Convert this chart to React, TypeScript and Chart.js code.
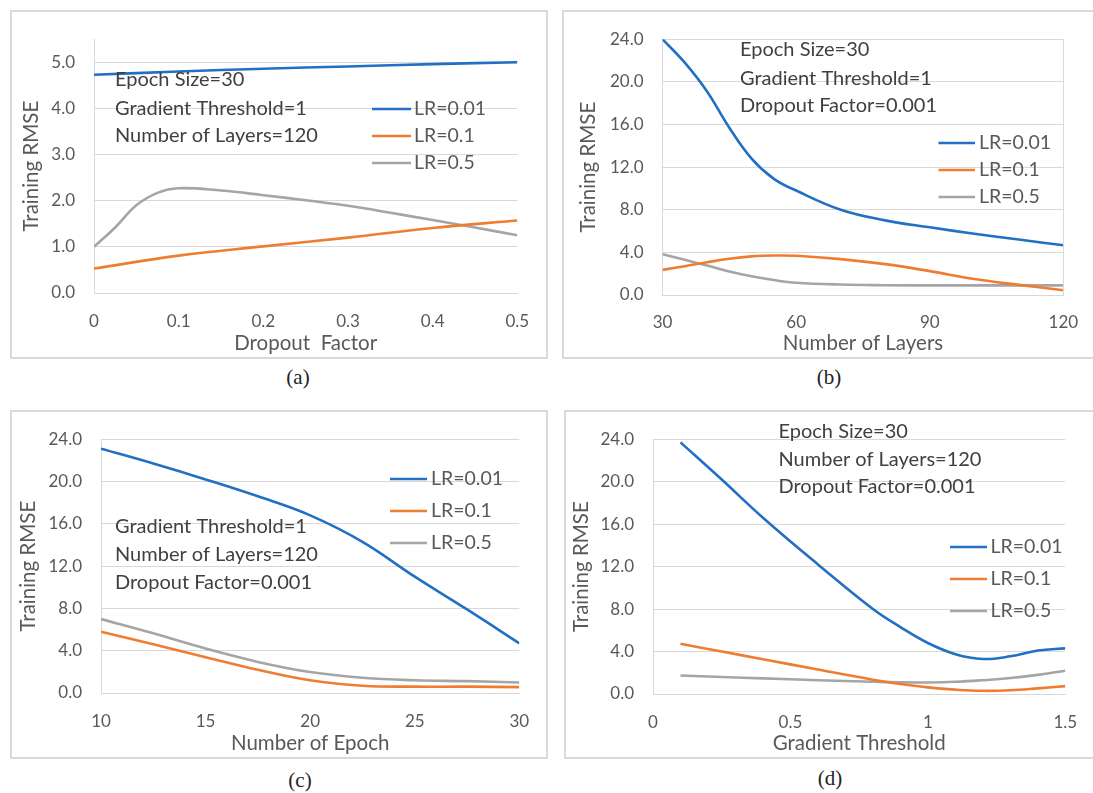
import React, { useEffect, useRef } from "react";
import { Chart, registerables } from "chart.js";

Chart.register(...registerables);

const FONT = "Lato, 'Open Sans', sans-serif";
const TICK_SIZE = 17;
const TITLE_SIZE = 20.5;
const NOTE_SIZE = 20;
const LEGEND_SIZE = 19.5;

const seriesLabels = ["LR=0.01", "LR=0.1", "LR=0.5"];
const seriesColors = ["#2170C4", "#EE7D31", "#A5A5A5"];

// ---------- (a) Dropout Factor ----------
const aDropoutX = [0, 0.1, 0.2, 0.3, 0.4, 0.5];
const aLR001 = [4.73, 4.8, 4.86, 4.91, 4.96, 5.0];
const aLR01 = [0.53, 0.81, 1.01, 1.2, 1.41, 1.57];
const aDropoutXGray = [0, 0.025, 0.05, 0.075, 0.1, 0.15, 0.2, 0.25, 0.3, 0.35, 0.4, 0.45, 0.5];
const aLR05 = [1.0, 1.42, 1.9, 2.17, 2.27, 2.22, 2.12, 2.01, 1.89, 1.74, 1.58, 1.42, 1.25];
const aXTicks = [0, 0.1, 0.2, 0.3, 0.4, 0.5];
const aXTickLabels = ["0", "0.1", "0.2", "0.3", "0.4", "0.5"];
const aYTicks = [0, 1, 2, 3, 4, 5];
const aYTickLabels = ["0.0", "1.0", "2.0", "3.0", "4.0", "5.0"];
const aNotes = ["Epoch Size=30", "Gradient Threshold=1", "Number of Layers=120"];

// ---------- (b) Number of Layers ----------
const bLayersX = [30, 35, 40, 45, 50, 55, 60, 70, 80, 90, 100, 110, 120];
const bLR001 = [24.0, 21.8, 19.1, 15.7, 12.8, 10.9, 9.8, 8.0, 7.0, 6.35, 5.75, 5.2, 4.66];
const bLR01 = [2.36, 2.7, 3.07, 3.4, 3.62, 3.7, 3.68, 3.37, 2.9, 2.24, 1.5, 0.95, 0.45];
const bLR05 = [3.83, 3.3, 2.76, 2.2, 1.75, 1.4, 1.15, 0.98, 0.92, 0.9, 0.9, 0.9, 0.9];
const bXTicks = [30, 60, 90, 120];
const bXTickLabels = ["30", "60", "90", "120"];
const rmseYTicks = [0, 4, 8, 12, 16, 20, 24];
const rmseYTickLabels = ["0.0", "4.0", "8.0", "12.0", "16.0", "20.0", "24.0"];
const bNotes = ["Epoch Size=30", "Gradient Threshold=1", "Dropout Factor=0.001"];

// ---------- (c) Number of Epoch ----------
const cEpochX = [10, 12.5, 15, 17.5, 20, 22.5, 25, 27.5, 30];
const cLR001 = [23.1, 21.7, 20.2, 18.6, 16.8, 14.3, 11.0, 7.9, 4.7];
const cLR01 = [5.79, 4.6, 3.39, 2.19, 1.2, 0.69, 0.6, 0.6, 0.56];
const cLR05 = [6.99, 5.64, 4.2, 2.94, 1.98, 1.44, 1.2, 1.12, 1.0];
const cXTicks = [10, 15, 20, 25, 30];
const cXTickLabels = ["10", "15", "20", "25", "30"];
const cNotes = ["Gradient Threshold=1", "Number of Layers=120", "Dropout Factor=0.001"];

// ---------- (d) Gradient Threshold ----------
const dGradX = [0.1, 0.25, 0.4, 0.6, 0.8, 0.9, 1.0, 1.1, 1.2, 1.3, 1.4, 1.5];
const dLR001 = [23.7, 20.2, 16.6, 12.2, 8.0, 6.3, 4.8, 3.75, 3.3, 3.55, 4.1, 4.3];
const dLR01 = [4.73, 4.0, 3.28, 2.3, 1.35, 0.95, 0.62, 0.41, 0.3, 0.35, 0.53, 0.74];
const dLR05 = [1.74, 1.6, 1.47, 1.3, 1.15, 1.1, 1.09, 1.15, 1.3, 1.5, 1.8, 2.19];
const dXTicks = [0, 0.5, 1, 1.5];
const dXTickLabels = ["0", "0.5", "1", "1.5"];
const dNotes = ["Epoch Size=30", "Number of Layers=120", "Dropout Factor=0.001"];

type Layout = {
  box: { l: number; t: number; r: number; b: number };
  plot: { l: number; t: number; r: number; b: number };
  yTitleX: number;
  xTickY: number;
  xTitleY: number;
  caption: { x: number; y: number };
  notes: { x: number; ys: number[] };
  legend: { x0: number; x1: number; tx: number; ys: number[] };
  rightBorder?: boolean;
};

type PanelCfg = {
  caption: string;
  xTitle: string;
  xMin: number;
  xMax: number;
  yMax: number;
  xTicks: number[];
  xTickLabels: string[];
  yTicks: number[];
  yTickLabels: string[];
  series: { x: number[]; y: number[] }[];
  notes: string[];
  layout: Layout;
};

const panels: PanelCfg[] = [
  {
    caption: "(a)",
    xTitle: "Dropout  Factor",
    xMin: 0, xMax: 0.5, yMax: 5.5,
    xTicks: aXTicks, xTickLabels: aXTickLabels,
    yTicks: aYTicks, yTickLabels: aYTickLabels,
    series: [
      { x: aDropoutX, y: aLR001 },
      { x: aDropoutX, y: aLR01 },
      { x: aDropoutXGray, y: aLR05 },
    ],
    notes: aNotes,
    layout: {
      box: { l: 10, t: 10, r: 548, b: 359 },
      plot: { l: 94, t: 25, r: 519.5, b: 293 },
      yTitleX: 31.6, xTickY: 322, xTitleY: 343,
      caption: { x: 298, y: 377 },
      notes: { x: 115, ys: [80, 109, 136] },
      legend: { x0: 372, x1: 411, tx: 414, ys: [109, 136, 163] },
    },
  },
  {
    caption: "(b)",
    xTitle: "Number of Layers",
    xMin: 30, xMax: 120, yMax: 24,
    xTicks: bXTicks, xTickLabels: bXTickLabels,
    yTicks: rmseYTicks, yTickLabels: rmseYTickLabels,
    series: [
      { x: bLayersX, y: bLR001 },
      { x: bLayersX, y: bLR01 },
      { x: bLayersX, y: bLR05 },
    ],
    notes: bNotes,
    layout: {
      box: { l: 562, t: 10, r: 1096, b: 359 },
      plot: { l: 662.5, t: 34, r: 1067, b: 295 },
      yTitleX: 588, xTickY: 323, xTitleY: 343,
      caption: { x: 829, y: 377 },
      notes: { x: 740, ys: [50, 79, 106] },
      legend: { x0: 938.5, x1: 975, tx: 979, ys: [143, 170, 197] },
      rightBorder: true,
    },
  },
  {
    caption: "(c)",
    xTitle: "Number of Epoch",
    xMin: 10, xMax: 30, yMax: 24,
    xTicks: cXTicks, xTickLabels: cXTickLabels,
    yTicks: rmseYTicks, yTickLabels: rmseYTickLabels,
    series: [
      { x: cEpochX, y: cLR001 },
      { x: cEpochX, y: cLR01 },
      { x: cEpochX, y: cLR05 },
    ],
    notes: cNotes,
    layout: {
      box: { l: 10, t: 410, r: 548, b: 759 },
      plot: { l: 101, t: 426, r: 523, b: 693 },
      yTitleX: 28, xTickY: 722, xTitleY: 743,
      caption: { x: 300, y: 780 },
      notes: { x: 115, ys: [527, 555, 583] },
      legend: { x0: 390, x1: 427, tx: 431, ys: [479, 511, 543] },
    },
  },
  {
    caption: "(d)",
    xTitle: "Gradient Threshold",
    xMin: 0, xMax: 1.5, yMax: 24,
    xTicks: dXTicks, xTickLabels: dXTickLabels,
    yTicks: rmseYTicks, yTickLabels: rmseYTickLabels,
    series: [
      { x: dGradX, y: dLR001 },
      { x: dGradX, y: dLR01 },
      { x: dGradX, y: dLR05 },
    ],
    notes: dNotes,
    layout: {
      box: { l: 564, t: 410, r: 1096, b: 759 },
      plot: { l: 653, t: 423, r: 1073, b: 694 },
      yTitleX: 581, xTickY: 723, xTitleY: 743,
      caption: { x: 830, y: 778 },
      notes: { x: 778.5, ys: [432, 460, 487] },
      legend: { x0: 950, x1: 987, tx: 990.5, ys: [547, 579, 611] },
    },
  },
];

const GRID = "#d9d9d9";
const TICK_COLOR = "#595959";
const NOTE_COLOR = "#404040";

function makeOverlay(cfg: PanelCfg) {
  const L = cfg.layout;
  const ox = L.box.l;
  const oy = L.box.t;
  return {
    id: "overlay",
    afterDraw(chart: any) {
      const ctx = chart.ctx as CanvasRenderingContext2D;
      ctx.save();
      if (L.rightBorder) {
        const a = chart.chartArea;
        ctx.strokeStyle = GRID;
        ctx.lineWidth = 1;
        ctx.beginPath();
        ctx.moveTo(Math.round(a.right) + 0.5, a.top);
        ctx.lineTo(Math.round(a.right) + 0.5, a.bottom);
        ctx.stroke();
      }
      ctx.textBaseline = "middle";
      ctx.textAlign = "left";
      ctx.font = `${NOTE_SIZE}px ${FONT}`;
      ctx.fillStyle = NOTE_COLOR;
      cfg.notes.forEach((t, i) => ctx.fillText(t, L.notes.x - ox, L.notes.ys[i] - oy));
      ctx.font = `${LEGEND_SIZE}px ${FONT}`;
      chart.data.datasets.forEach((ds: any, i: number) => {
        const y = L.legend.ys[i] - oy;
        ctx.strokeStyle = ds.borderColor;
        ctx.lineWidth = ds.borderWidth;
        ctx.beginPath();
        ctx.moveTo(L.legend.x0 - ox, y);
        ctx.lineTo(L.legend.x1 - ox, y);
        ctx.stroke();
        ctx.fillStyle = TICK_COLOR;
        ctx.fillText(ds.label, L.legend.tx - ox, y);
      });
      ctx.restore();
    },
  };
}

function ChartPanel({ cfg }: { cfg: PanelCfg }) {
  const ref = useRef<HTMLCanvasElement>(null);
  const L = cfg.layout;
  const W = L.box.r - L.box.l;
  const H = L.box.b - L.box.t;
  useEffect(() => {
    const canvas = ref.current!;
    canvas.width = W;
    canvas.height = H;
    const tickFont = { family: FONT, size: TICK_SIZE };
    const titleFont = { family: FONT, size: TITLE_SIZE };
    const tickHalf = TICK_SIZE * 0.6;
    const titleHalf = TITLE_SIZE * 0.6;
    const chart = new Chart(canvas, {
      type: "line",
      data: {
        datasets: cfg.series.map((s, i) => ({
          label: seriesLabels[i],
          data: s.x.map((x, j) => ({ x, y: s.y[j] })),
          borderColor: seriesColors[i],
          backgroundColor: seriesColors[i],
          borderWidth: 2.6,
          pointRadius: 0,
          tension: 0.4,
          fill: false,
        })),
      },
      options: {
        responsive: false,
        animation: false,
        devicePixelRatio: 1,
        events: [],
        layout: {
          padding: { left: 0, top: L.plot.t - L.box.t, right: L.box.r - L.plot.r, bottom: 0 },
        },
        plugins: { legend: { display: false }, tooltip: { enabled: false } },
        scales: {
          x: {
            type: "linear",
            min: cfg.xMin,
            max: cfg.xMax,
            afterBuildTicks: (sc: any) => {
              sc.ticks = cfg.xTicks.map((v) => ({ value: v }));
            },
            afterFit: (sc: any) => {
              sc.height = L.box.b - L.plot.b;
            },
            ticks: {
              callback: (_v: any, i: number) => cfg.xTickLabels[i],
              padding: L.xTickY - L.plot.b - tickHalf,
              font: tickFont,
              color: TICK_COLOR,
              maxRotation: 0,
              autoSkip: false,
            },
            grid: { display: false, drawTicks: false },
            border: { display: true, color: GRID, width: 1 },
            title: {
              display: true,
              text: cfg.xTitle,
              font: titleFont,
              color: TICK_COLOR,
              padding: { top: 0, bottom: L.box.b - L.xTitleY - titleHalf },
            },
          },
          y: {
            type: "linear",
            min: 0,
            max: cfg.yMax,
            afterBuildTicks: (sc: any) => {
              sc.ticks = cfg.yTicks.map((v) => ({ value: v }));
            },
            afterFit: (sc: any) => {
              sc.width = L.plot.l - L.box.l;
            },
            ticks: {
              callback: (_v: any, i: number) => cfg.yTickLabels[i],
              padding: 19,
              font: tickFont,
              color: TICK_COLOR,
              autoSkip: false,
            },
            grid: { color: GRID, lineWidth: 1, drawTicks: false },
            border: { display: true, color: GRID, width: 1 },
            title: {
              display: true,
              text: "Training RMSE",
              font: titleFont,
              color: TICK_COLOR,
              padding: { top: L.yTitleX - L.box.l - titleHalf, bottom: 0 },
            },
          },
        },
      },
      plugins: [makeOverlay(cfg)],
    } as any);
    return () => chart.destroy();
  }, []);
  return (
    <>
      <div
        style={{
          position: "absolute",
          left: L.box.l,
          top: L.box.t,
          width: W,
          height: H,
          boxSizing: "border-box",
          border: "2px solid #dadada",
        }}
      />
      <canvas
        ref={ref}
        style={{ position: "absolute", left: L.box.l, top: L.box.t, width: W, height: H }}
      />
      <div
        style={{
          position: "absolute",
          left: L.caption.x,
          top: L.caption.y,
          transform: "translate(-50%, -50%)",
          fontFamily: "'Liberation Serif', 'DejaVu Serif', serif",
          fontSize: 21,
          lineHeight: 1,
          color: "#222",
          whiteSpace: "nowrap",
        }}
      >
        {cfg.caption}
      </div>
    </>
  );
}

export default function App() {
  return (
    <div
      style={{
        position: "absolute",
        left: 0,
        top: 0,
        width: 1093,
        height: 793,
        background: "#ffffff",
        overflow: "hidden",
      }}
    >
      {panels.map((p) => (
        <ChartPanel key={p.caption} cfg={p} />
      ))}
    </div>
  );
}
